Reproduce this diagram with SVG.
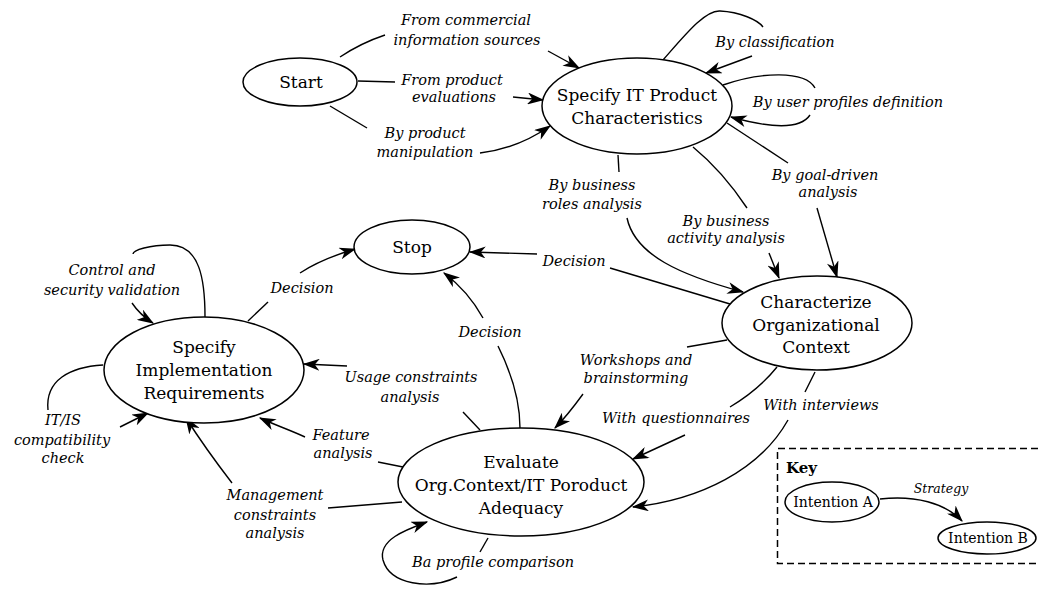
<svg xmlns="http://www.w3.org/2000/svg" width="1038" height="593" viewBox="0 0 1038 593">
<style>
.n{fill:#fff;stroke:#000;stroke-width:1.5}
.t{font-family:"DejaVu Serif","Liberation Serif",serif;font-size:17px;fill:#000;text-anchor:middle}
.l{font-family:"DejaVu Serif","Liberation Serif",serif;font-style:italic;font-size:14.5px;fill:#000;text-anchor:middle}
.c{fill:none;stroke:#000;stroke-width:1.4}
.a{marker-end:url(#ah)}
.k{font-family:"DejaVu Serif","Liberation Serif",serif;font-size:14px;fill:#000;text-anchor:middle}
</style>
<defs>
<marker id="ah" viewBox="0 0 14 10" refX="13" refY="5" markerWidth="17" markerHeight="12" orient="auto" markerUnits="userSpaceOnUse">
<path d="M0,0 L14,5 L0,10 L4,5 Z" fill="#000"/>
</marker>
</defs>
<rect width="1038" height="593" fill="#fff"/>
<g id="connectors">
<path class="c" d="M340,57 C355,47 370,40 385,35"/>
<path class="c a" d="M548,51 L579,68"/>
<path class="c" d="M358,81 L395,82"/>
<path class="c a" d="M513,97 L543,100"/>
<path class="c" d="M330,106 C345,115 357,122 367,128"/>
<path class="c a" d="M480,153 C505,150 530,140 550,126"/>
<path class="c" d="M663,60 C685,35 705,10 720,11 C740,12 758,20 763,27"/>
<path class="c a" d="M752,56 L706,73"/>
<path class="c" d="M723,85 C760,72 805,70 815,88"/>
<path class="c a" d="M810,115 C800,130 770,128 731,117"/>
<path class="c" d="M727,123 L788,163"/>
<path class="c a" d="M817,208 L837,277"/>
<path class="c" d="M693,147 C715,165 735,190 747,208"/>
<path class="c a" d="M769,253 L779,278"/>
<path class="c" d="M618,155 L619,172"/>
<path class="c a" d="M627,218 C635,255 680,275 743,292"/>
<path class="c" d="M730,304 L610,268"/>
<path class="c a" d="M537,254 L470,252"/>
<path class="c" d="M248,321 L268,302"/>
<path class="c a" d="M300,273 C315,263 335,255 355,249"/>
<path class="c" d="M520,428 C520,400 510,370 498,346"/>
<path class="c a" d="M483,318 C473,300 460,285 444,273"/>
<path class="c" d="M205,317 C205,280 200,245 170,245 C150,245 133,250 133,254"/>
<path class="c a" d="M132,303 C138,312 145,318 153,323"/>
<path class="c" d="M103,365 C70,367 45,380 48,410"/>
<path class="c a" d="M120,427 C130,422 140,417 148,413"/>
<path class="c" d="M480,430 L463,412"/>
<path class="c a" d="M347,366 L304,364"/>
<path class="c" d="M403,467 L378,462"/>
<path class="c a" d="M305,437 C290,430 275,425 260,418"/>
<path class="c" d="M402,502 L328,508"/>
<path class="c a" d="M232,483 C222,470 200,440 186,418"/>
<path class="c" d="M488,538 L480,552"/>
<path class="c a" d="M457,577 C430,590 390,585 383,560 C378,540 405,530 427,522"/>
<path class="c" d="M727,340 L687,347"/>
<path class="c a" d="M583,394 C575,405 565,418 555,428"/>
<path class="c" d="M777,367 C765,382 750,395 730,407"/>
<path class="c a" d="M685,435 L633,459"/>
<path class="c" d="M815,372 L805,392"/>
<path class="c a" d="M788,420 C760,470 700,500 633,507"/>
</g>
<g id="labels">
<text class="l" x="466" y="25">From commercial</text>
<text class="l" x="467" y="45">information sources</text>
<text class="l" x="452" y="85">From product</text>
<text class="l" x="454" y="102">evaluations</text>
<text class="l" x="425" y="138">By product</text>
<text class="l" x="425" y="157">manipulation</text>
<text class="l" x="775" y="47">By classification</text>
<text class="l" x="848" y="107">By user profiles definition</text>
<text class="l" x="825" y="180">By goal-driven</text>
<text class="l" x="828" y="197">analysis</text>
<text class="l" x="592" y="190">By business</text>
<text class="l" x="592" y="209">roles analysis</text>
<text class="l" x="726" y="226">By business</text>
<text class="l" x="726" y="243">activity analysis</text>
<text class="l" x="574" y="266">Decision</text>
<text class="l" x="302" y="293">Decision</text>
<text class="l" x="490" y="337">Decision</text>
<text class="l" x="112" y="275">Control and</text>
<text class="l" x="112" y="295">security validation</text>
<text class="l" x="63" y="425">IT/IS</text>
<text class="l" x="62" y="445">compatibility</text>
<text class="l" x="63" y="463">check</text>
<text class="l" x="411" y="382">Usage constraints</text>
<text class="l" x="410" y="402">analysis</text>
<text class="l" x="341" y="440">Feature</text>
<text class="l" x="343" y="458">analysis</text>
<text class="l" x="275" y="500">Management</text>
<text class="l" x="275" y="520">constraints</text>
<text class="l" x="275" y="538">analysis</text>
<text class="l" x="493" y="567">Ba profile comparison</text>
<text class="l" x="636" y="365">Workshops and</text>
<text class="l" x="636" y="383">brainstorming</text>
<text class="l" x="676" y="423">With questionnaires</text>
<text class="l" x="821" y="410">With interviews</text>
</g>
<g id="start">
<ellipse class="n" cx="300" cy="82" rx="57" ry="24"/>
<text class="t" x="301" y="88">Start</text>
</g>
<g id="specify-it">
<ellipse class="n" cx="637" cy="106" rx="95" ry="48"/>
<text class="t" x="637" y="101">Specify IT Product</text>
<text class="t" x="637" y="124">Characteristics</text>
</g>
<g id="stop">
<ellipse class="n" cx="412" cy="247" rx="58" ry="27"/>
<text class="t" x="412" y="253">Stop</text>
</g>
<g id="characterize">
<ellipse class="n" cx="817" cy="323" rx="95" ry="47"/>
<text class="t" x="816" y="308">Characterize</text>
<text class="t" x="816" y="331">Organizational</text>
<text class="t" x="816" y="353">Context</text>
</g>
<g id="specify-impl">
<ellipse class="n" cx="204" cy="370" rx="100" ry="53"/>
<text class="t" x="204" y="353">Specify</text>
<text class="t" x="204" y="376">Implementation</text>
<text class="t" x="204" y="399">Requirements</text>
</g>
<g id="evaluate">
<ellipse class="n" cx="521" cy="482" rx="123" ry="54"/>
<text class="t" x="521" y="468">Evaluate</text>
<text class="t" x="521" y="491">Org.Context/IT Poroduct</text>
<text class="t" x="521" y="514">Adequacy</text>
</g>
<g id="key">
<path d="M1038,448.5 L777.5,448.5 L777.5,563.5 L1038,563.5" fill="none" stroke="#000" stroke-width="1.5" stroke-dasharray="7,4"/>
<text x="786" y="473" font-family="DejaVu Serif, Liberation Serif, serif" font-weight="bold" font-size="15px">Key</text>
<path class="c a" d="M880,499 C915,495 945,503 962,521"/>
<text class="l" x="941" y="493" style="font-size:12.5px">Strategy</text>
<g id="intention-a">
<ellipse class="n" cx="832" cy="502" rx="47" ry="20"/>
<text class="k" x="833" y="507">Intention A</text>
</g>
<g id="intention-b">
<ellipse class="n" cx="987" cy="538" rx="49" ry="16"/>
<text class="k" x="988" y="543">Intention B</text>
</g>
</g>
</svg>
